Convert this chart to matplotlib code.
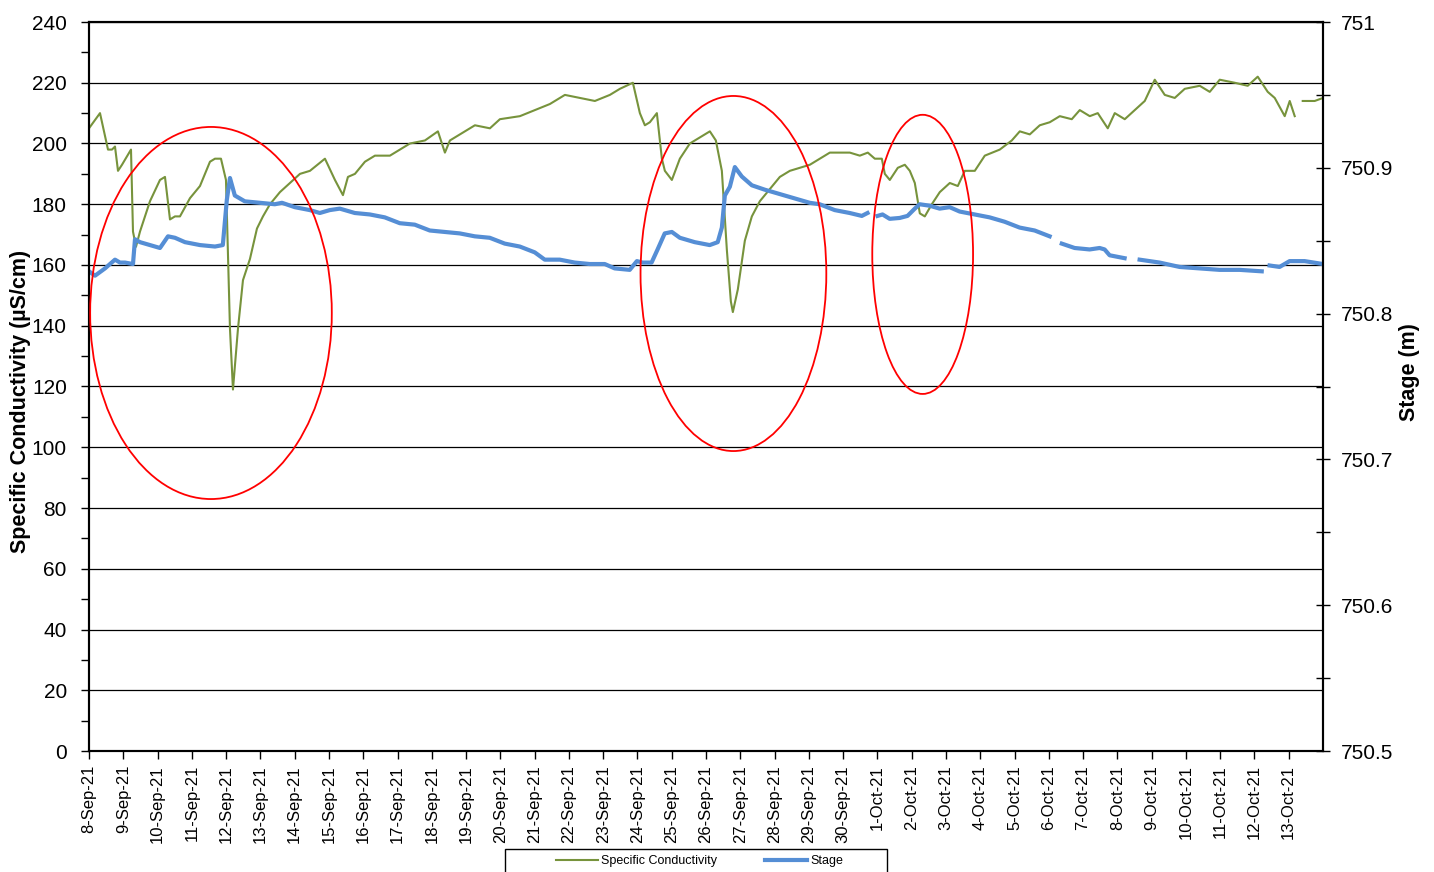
import matplotlib
matplotlib.use('Agg')
import matplotlib.pyplot as plt
import matplotlib.dates as mdates
from matplotlib.patches import Ellipse, Rectangle
from matplotlib.ticker import MultipleLocator, FormatStrFormatter
import numpy as np
import pandas as pd

plt.rcParams['font.family'] = ['Liberation Sans', 'DejaVu Sans']

start = pd.Timestamp('2021-09-08')
end = pd.Timestamp('2021-10-14')

# specific conductivity (uS/cm), hours since 8-Sep-21 00:00
cond_hours = [0, 7.7, 13.3, 16.1, 18.2, 20.3, 23.1, 29.4, 30.8, 32.9, 35.7, 42.7, 49.7, 53.2,
              56.7, 60.2, 63.7, 70.7, 77.7, 84.7, 88.2, 92.4, 95.9, 98.7, 100.8, 104.3, 107.8,
              112.7, 117.6, 121.8, 126.7, 133.7, 140.7, 147.7, 154.7, 165.2, 172.2, 177.8, 181.3,
              186.2, 193.2, 200.2, 210.7, 217.7, 224.7, 235.2, 244.3, 249.2, 252.7, 263.2, 270.2,
              280.7, 287.7, 301.7, 312.2, 322.7, 333.2, 343.7, 354.2, 364.7, 371.7, 380.8, 385.7,
              389.2, 392.7, 397.6, 401.1, 403.2, 408.1, 413.7, 420.7, 427.7, 434.7, 438.9, 443.1,
              446.6, 449.4, 450.8, 454.3, 459.2, 464.1, 469.7, 476.7, 483.7, 490.7, 497.7, 504.7,
              511.7, 518.7, 525.7, 532.7, 539.7, 545.3, 550.2, 555.1, 557.2, 560.7, 566.3, 571.2,
              574.7, 578.2, 581.7, 585.2, 590.1, 595.7, 602.7, 608.3, 613.2, 620.2, 627.2, 637.7,
              646.1, 651.7, 658.7, 665.7, 672.7, 679.7, 688.1, 693.7, 700.7, 706.3, 713.3, 718.2,
              725.2, 732.2, 739.2, 746.2, 753.2, 760.2, 767.2, 777.7, 784.7, 791.7, 802.2, 811.3,
              818.3, 825.3, 830.2, 837.2, 840.7, 844.2, 846.5, 849.8, 858.2, 864.0]
cond_vals = [205, 210, 198, 198, 199, 191, 193, 198, 171, 166, 171, 181, 188, 189,
             175, 176, 176, 182, 186, 194, 195, 195, 188, 139, 119, 139, 155,
             162, 172, 176, 180, 184, 187, 190, 191, 195, 188, 183, 189,
             190, 194, 196, 196, 198, 200, 201, 204, 197, 201, 204, 206,
             205, 208, 209, 211, 213, 216, 215, 214, 216, 218, 220, 210,
             206, 207, 210, 195, 191, 188, 195, 200, 202, 204, 201, 191,
             165, 148, 144.5, 152, 168, 176, 181, 185, 189, 191, 192, 193,
             195, 197, 197, 197, 196, 197, 195, 195, 190, 188, 192, 193,
             191, 187, 177, 176, 180, 184, 187, 186, 191, 191, 196, 198,
             201, 204, 203, 206, 207, 209, 208, 211, 209, 210, 205, 210,
             208, 211, 214, 221, 216, 215, 218, 219, 217, 221, 220, 219,
             222, 217, 215, 209, 214, 209, np.nan, 214, 214, 215]

# stage (m), hours since 8-Sep-21 00:00
stage_hours = [0, 4.2, 11.2, 18.2, 21.7, 25.2, 30.8, 32.2, 35.7, 42.7, 49.7, 55.3, 60.2, 67.2,
               77.7, 88.2, 93.7, 96.5, 98.7, 102.1, 109.1, 119.6, 130.1, 135.1, 144.1, 154.6,
               161.6, 168.6, 175.6, 186.1, 196.6, 207.1, 217.6, 228.1, 238.6, 249.1, 259.6,
               270.1, 280.6, 291.1, 301.6, 312.1, 319.1, 329.6, 340.1, 350.6, 361.1, 368.1,
               378.6, 383.6, 387.6, 393.9, 398.1, 403.1, 408.1, 413.7, 424.1, 434.6, 440.2,
               443.1, 445.2, 448.7, 452.2, 457.1, 464.1, 473.1, 480.1, 487.1, 494.1, 504.6,
               511.6, 522.1, 532.6, 541.1, 545.1, 548.0, 552.1, 555.6, 560.6, 567.6, 573.1,
               578.2, 581.6, 588.6, 595.6, 602.6, 609.6, 620.1, 630.6, 641.1, 651.6, 662.1,
               672.6, 676.0, 681.1, 690.1, 700.6, 707.6, 711.1, 714.6, 725.1, 729.5, 735.6,
               749.6, 763.6, 777.6, 791.6, 805.6, 821.1, 823.5, 826.6, 833.6, 840.6, 851.1, 864.0]
stage_vals = [750.829, 750.826, 750.831, 750.837, 750.835, 750.835, 750.834, 750.851, 750.849,
              750.847, 750.845, 750.853, 750.852, 750.849, 750.847, 750.846, 750.847, 750.878,
              750.893, 750.881, 750.877, 750.876, 750.875, 750.876, 750.873, 750.871, 750.869,
              750.871, 750.872, 750.869, 750.868, 750.866, 750.862, 750.861, 750.857, 750.856,
              750.855, 750.853, 750.852, 750.848, 750.846, 750.842, 750.837, 750.837, 750.835,
              750.834, 750.834, 750.831, 750.830, 750.836, 750.835, 750.835, 750.844, 750.855,
              750.856, 750.852, 750.849, 750.847, 750.849, 750.859, 750.881, 750.887, 750.9005,
              750.894, 750.888, 750.885, 750.883, 750.881, 750.879, 750.876, 750.875, 750.871,
              750.869, 750.867, 750.869, np.nan, 750.867, 750.868, 750.865, 750.8656, 750.867,
              750.872, 750.875, 750.874, 750.872, 750.873, 750.870, 750.868, 750.866, 750.863,
              750.859, 750.857, 750.853, np.nan, 750.848, 750.845, 750.844, 750.845, 750.844,
              750.840, 750.838, np.nan, 750.837, 750.835, 750.832, 750.831, 750.830, 750.830,
              750.829, np.nan, 750.833, 750.832, 750.836, 750.836, 750.834]

# highlighted events: centre (hours), centre (uS/cm), width (days), height (uS/cm)
event_hours = [85.4, 451.2, 583.7]
event_cond = [144.2, 157.2, 163.5]
event_width = [7.05, 5.42, 2.94]
event_height = [122.5, 116.9, 91.9]

cond_time = start + pd.to_timedelta(cond_hours, unit='h')
stage_time = start + pd.to_timedelta(stage_hours, unit='h')

fig = plt.figure(figsize=(14.34, 8.72), dpi=100)
ax = fig.add_axes([89 / 1434, 121 / 872, 1234 / 1434, 729 / 872])
ax2 = ax.twinx()

green = '#77933C'
blue = '#558ED5'

l1, = ax.plot(cond_time, cond_vals, color=green, lw=1.5, label='Specific Conductivity', zorder=3)
l2, = ax2.plot(stage_time, stage_vals, color=blue, lw=3.0, label='Stage', zorder=2)

ax.set_xlim(start, end)
ax.set_ylim(0, 240)
ax2.set_ylim(750.5, 751)

ax.yaxis.set_major_locator(MultipleLocator(20))
ax.yaxis.set_minor_locator(MultipleLocator(10))
ax2.yaxis.set_major_locator(MultipleLocator(0.1))
ax2.yaxis.set_minor_locator(MultipleLocator(0.05))
ax2.yaxis.set_major_formatter(FormatStrFormatter('%g'))

ax.set_xticks(pd.date_range(start, '2021-10-13', freq='D'))
ax.xaxis.set_major_formatter(mdates.DateFormatter('%-d-%b-%y'))
plt.setp(ax.get_xticklabels(), rotation=90, fontsize=12)

ax.grid(axis='y', which='major', color='black', lw=0.9)
ax.set_axisbelow(True)

ax.tick_params(axis='y', which='both', direction='out', length=6, width=1, labelsize=15, pad=10)
ax.tick_params(axis='x', direction='out', length=6, width=1, pad=4)
ax2.tick_params(axis='y', which='both', direction='inout', length=10, width=1, labelsize=15, pad=8)

for sp in ax.spines.values():
    sp.set_linewidth(1.5)
for sp in ax2.spines.values():
    sp.set_linewidth(1.5)

ax.set_ylabel('Specific Conductivity (µS/cm)', fontsize=15.5, fontweight='bold')
ax.yaxis.set_label_coords(-0.047, 0.479)
ax2.set_ylabel('Stage (m)', fontsize=15.5, fontweight='bold')
ax2.yaxis.set_label_coords(1.0616, 0.52)

# red circles around the events
for h, c, w, ht in zip(event_hours, event_cond, event_width, event_height):
    cx = mdates.date2num(start + pd.Timedelta(hours=h))
    ax2.add_patch(Ellipse((cx, c), w, ht, transform=ax.transData, fill=False,
                          edgecolor='red', lw=1.3, zorder=5))

# legend below the axes
fig.legend(handles=[l1, l2], loc='center', bbox_to_anchor=(699.5 / 1434, 11 / 872),
           ncol=2, frameon=False, fontsize=9, handlelength=3.4, handletextpad=0.25,
           columnspacing=3.8)
fig.add_artist(Rectangle((505 / 1434, -0.01), 382 / 1434, 23 / 872 + 0.01,
                         transform=fig.transFigure, fill=False, edgecolor='black', lw=1))

fig.savefig('out.png', dpi=100)
